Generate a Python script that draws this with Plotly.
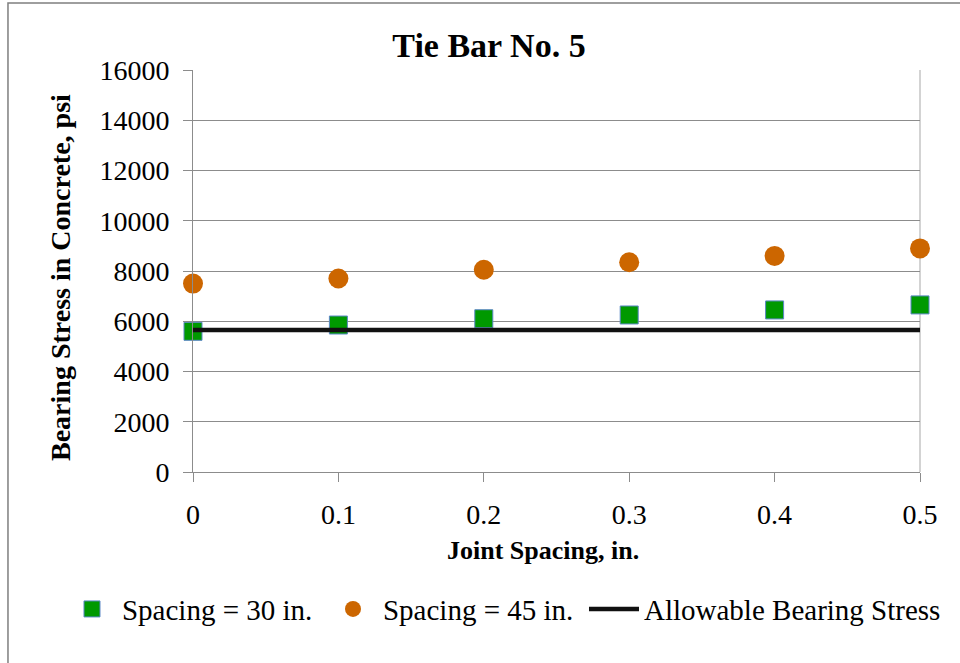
import plotly.graph_objects as go

# Joint spacing (in.) and bearing stress in concrete (psi)
joint_spacing = [0.0, 0.1, 0.2, 0.3, 0.4, 0.5]
stress_30in = [5600, 5850, 6100, 6250, 6450, 6650]
stress_45in = [7500, 7700, 8050, 8350, 8600, 8900]
allowable_stress = 5650

y_ticks = [0, 2000, 4000, 6000, 8000, 10000, 12000, 14000, 16000]
x_ticks = [0, 0.1, 0.2, 0.3, 0.4, 0.5]
x_tick_labels = ["0", "0.1", "0.2", "0.3", "0.4", "0.5"]

FONT = "Liberation Serif, Times New Roman, serif"
GRID = "#8c8c8c"

fig = go.Figure()

fig.add_trace(go.Scatter(
    x=joint_spacing, y=stress_30in, mode="markers", name="Spacing = 30 in.",
    marker=dict(symbol="square", size=18, color="#009900",
                line=dict(color="#5b87c5", width=1)),
    cliponaxis=False, legendwidth=196,
))
fig.add_trace(go.Scatter(
    x=joint_spacing, y=stress_45in, mode="markers", name="Spacing = 45 in.",
    marker=dict(symbol="circle", size=20, color="#cc6600", line=dict(width=0)),
    cliponaxis=False, legendwidth=196,
))
fig.add_trace(go.Scatter(
    x=[joint_spacing[0], joint_spacing[-1]], y=[allowable_stress, allowable_stress],
    mode="lines", name="Allowable Bearing Stress",
    line=dict(color="#111111", width=4.5),
    cliponaxis=False,
))

fig.update_layout(
    width=960, height=663,
    margin=dict(l=193, r=40, t=70, b=191),
    paper_bgcolor="white", plot_bgcolor="white",
    font=dict(family=FONT, size=27, color="black"),
    title=dict(text="<b>Tie Bar No. 5</b>", x=489 / 960, xref="container",
               xanchor="center", y=1 - 45 / 663, yref="container", yanchor="middle",
               font=dict(family=FONT, size=34, color="black")),
    showlegend=True,
    legend=dict(orientation="h", x=-0.1802, xanchor="left", y=-0.341, yanchor="middle",
                font=dict(family=FONT, size=29, color="black"),
                itemwidth=50,
                bgcolor="rgba(0,0,0,0)", itemsizing="trace"),
)

fig.update_xaxes(
    range=[0, 0.5], tickvals=x_ticks, ticktext=x_tick_labels,
    showgrid=False, zeroline=False,
    showline=True, linecolor=GRID, linewidth=1,
    ticks="outside", ticklen=9, tickcolor=GRID, tickwidth=1,
    ticklabelstandoff=8,
    tickfont=dict(family=FONT, size=28, color="black"),
)
fig.update_yaxes(
    range=[0, 16000], tickvals=y_ticks, tickformat="d",
    showgrid=True, gridcolor=GRID, gridwidth=1, zeroline=False,
    showline=True, linecolor=GRID, linewidth=1,
    ticks="outside", ticklen=9, tickcolor=GRID, tickwidth=1,
    ticklabelstandoff=8,
    tickfont=dict(family=FONT, size=28, color="black"),
)

# Axis titles
fig.add_annotation(text="<b>Joint Spacing, in.</b>", xref="paper", yref="paper",
                   x=0.4814, y=-0.1965, showarrow=False, xanchor="center", yanchor="middle",
                   font=dict(family=FONT, size=26, color="black"))
fig.add_annotation(text="<b>Bearing Stress in Concrete, psi</b>", xref="paper", yref="paper",
                   x=-0.183, y=0.485, showarrow=False, textangle=-90,
                   xanchor="center", yanchor="middle",
                   font=dict(family=FONT, size=28, color="black"))

# Right edge of the plot area
fig.add_shape(type="line", xref="paper", yref="paper", x0=1, x1=1, y0=0, y1=1,
              line=dict(color="#c4c4c4", width=1.5), layer="below")
# Chart frame
fig.add_shape(type="rect", xref="paper", yref="paper",
              x0=-0.2545, x1=1.0757, y0=-0.517, y1=1.1667,
              line=dict(color="#7f7f7f", width=1.5), fillcolor="rgba(0,0,0,0)")

fig.write_html("out.html")
